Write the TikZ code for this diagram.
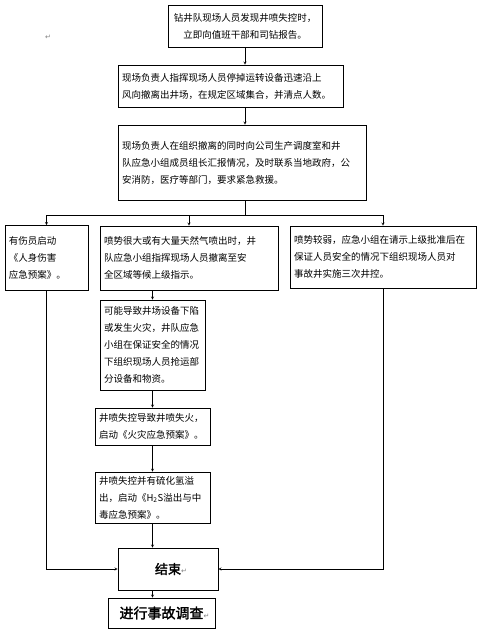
\documentclass[tikz,border=0pt]{standalone}
\usepackage{fontspec}
\setmainfont{Noto Sans CJK SC}
\newfontfamily\boldcjk{Noto Sans CJK SC}[FakeBold=2]
\newfontfamily\markfont{DejaVu Sans}
\usetikzlibrary{positioning}
\tikzset{
  flowbox/.style={rectangle, draw, line width=0.7pt, inner sep=4pt, align=left,
    font=\fontsize{9.5}{17}\selectfont},
  endbox/.style={rectangle, draw, line width=0.7pt, inner sep=4pt, align=center},
  retmark/.style={font=\markfont\fontsize{7}{7}\selectfont, text=gray, inner sep=0pt},
}
\begin{document}
\begin{tikzpicture}[x=1pt, y=-1pt, >=stealth]
  \useasboundingbox[fill=white] (0,0) rectangle (484,636);
  \node (mark) [retmark] at (48,37) {↵};

  \node (report) [flowbox, align=center, text width=146pt, minimum height=42pt] at (245,26)
    {钻井队现场人员发现井喷失控时，\\立即向值班干部和司钻报告。};
  \node (evacuate) [flowbox, text width=217pt, minimum height=42pt] at (230.5,86)
    {现场负责人指挥现场人员停掉运转设备迅速沿上\\风向撤离出井场，在规定区域集合，并清点人数。};
  \node (notify) [flowbox, text width=240pt, minimum height=75pt] at (242,162.5)
    {现场负责人在组织撤离的同时向公司生产调度室和井\\队应急小组成员组长汇报情况，及时联系当地政府，公\\安消防，医疗等部门，要求紧急救援。};
  \coordinate (split) at (245,215);

  \node (injury) [flowbox, text width=75pt, minimum height=65pt] at (46.5,258)
    {有伤员启动\\《人身伤害\\应急预案》。};
  \node (strong) [flowbox, text width=170pt, minimum height=64pt] at (189,258)
    {喷势很大或有大量天然气喷出时，井\\队应急小组指挥现场人员撤离至安\\全区域等候上级指示。};
  \node (weak) [flowbox, text width=178pt, minimum height=62pt] at (383,257)
    {喷势较弱，应急小组在请示上级批准后在\\保证人员安全的情况下组织现场人员对\\事故井实施三次井控。};

  \node (rescue) [flowbox, text width=97pt, minimum height=90pt] at (152.5,345)
    {可能导致井场设备下陷\\或发生火灾，井队应急\\小组在保证安全的情况\\下组织现场人员抢运部\\分设备和物资。};
  \node (fire) [flowbox, text width=107pt, minimum height=37pt] at (152.5,426.5)
    {井喷失控导致井喷失火，\\启动《火灾应急预案》。};
  \node (gas) [flowbox, text width=107pt, minimum height=45pt] at (152.5,497.5)
    {井喷失控并有硫化氢溢\\出，启动《H\textsubscript{2}S溢出与中\\毒应急预案》。};

  \node (finish) [endbox, minimum width=100pt, minimum height=42pt] at (168,569)
    {\boldcjk\fontsize{13}{15}\selectfont 结束\makebox[0pt][l]{\markfont\fontsize{7}{7}\selectfont\color{gray}↵}};
  \node (inquiry) [endbox, minimum width=107pt, minimum height=30pt] at (161.5,613)
    {\boldcjk\fontsize{14}{16}\selectfont 进行事故调查\makebox[0pt][l]{\markfont\fontsize{7}{7}\selectfont\color{gray}↵}};

  \draw[->] (report.south) -- (report.south |- evacuate.north);
  \draw[->] (report.south |- evacuate.south) -- (report.south |- notify.north);
  \draw (report.south |- notify.south) -- (split);
  \draw (injury.north |- split) -- (weak.north |- split);
  \draw[->] (injury.north |- split) -- (injury.north);
  \draw[->] (strong.north |- split) -- (strong.north);
  \draw[->] (weak.north |- split) -- (weak.north);

  \draw[->] (rescue.north |- strong.south) -- (rescue.north);
  \draw[->] (rescue.south) -- (fire.north);
  \draw[->] (fire.south) -- (gas.north);
  \draw[->] (gas.south) -- (gas.south |- finish.north);
  \draw[->] (injury.south) -- (injury.south |- finish.west) -- (finish.west);
  \draw[->] (weak.south) -- (weak.south |- finish.east) -- (finish.east);
  \draw[->] (finish.south -| gas.south) -- (gas.south |- inquiry.north);
\end{tikzpicture}
\end{document}
